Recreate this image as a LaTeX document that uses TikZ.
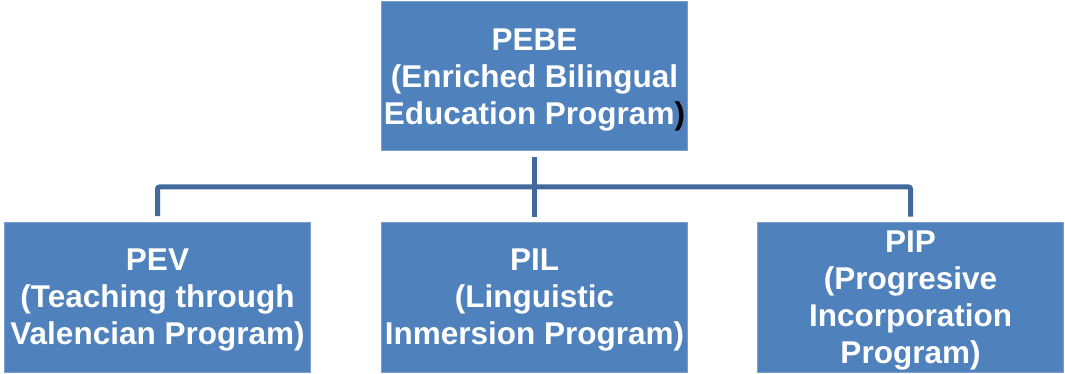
\documentclass[tikz,border=0pt]{standalone}
\usepackage{fontspec}
\setmainfont{Liberation Sans}
\usepackage{xcolor}
\definecolor{boxblue}{HTML}{4F81BD}
\definecolor{boxedge}{HTML}{7A9FCF}
\definecolor{linkblue}{HTML}{41699B}
\tikzset{
  progbox/.style={fill=boxblue, draw=boxedge, line width=1pt, inner sep=0pt,
    minimum width=306pt, minimum height=150pt, align=center, text=white,
    text depth=0pt, font=\bfseries\fontsize{31.5}{37}\selectfont},
  link/.style={draw=linkblue, line width=5pt, rounded corners=2pt,
    shorten <=5.5pt, shorten >=5pt}
}
\begin{document}
\begin{tikzpicture}[x=1pt, y=-1pt]
        \useasboundingbox (0,0) rectangle (1065,374);
        \node[progbox, minimum height=149pt] (pebe) at (534.5,76.5)
          {PEBE\\(Enriched Bilingual\\Education Program\textcolor{black}{)}};
        \foreach \name/\x/\txt in {pev/157.5/{PEV\\(Teaching through\\Valencian Program)},
          pil/534.5/{PIL\\(Linguistic\\Inmersion Program)},
          pip/910.5/{PIP\\(Progresive\\Incorporation\\Program)}}{
        \node[progbox] (\name) at (\x,297) {\txt};}
        \coordinate (bar) at (534.5,187);
        \draw[link] (pebe.south) -- (pil.north);
        \draw[link] (pev.north) |- (bar) -| (pip.north);
    \end{tikzpicture}
\end{document}
